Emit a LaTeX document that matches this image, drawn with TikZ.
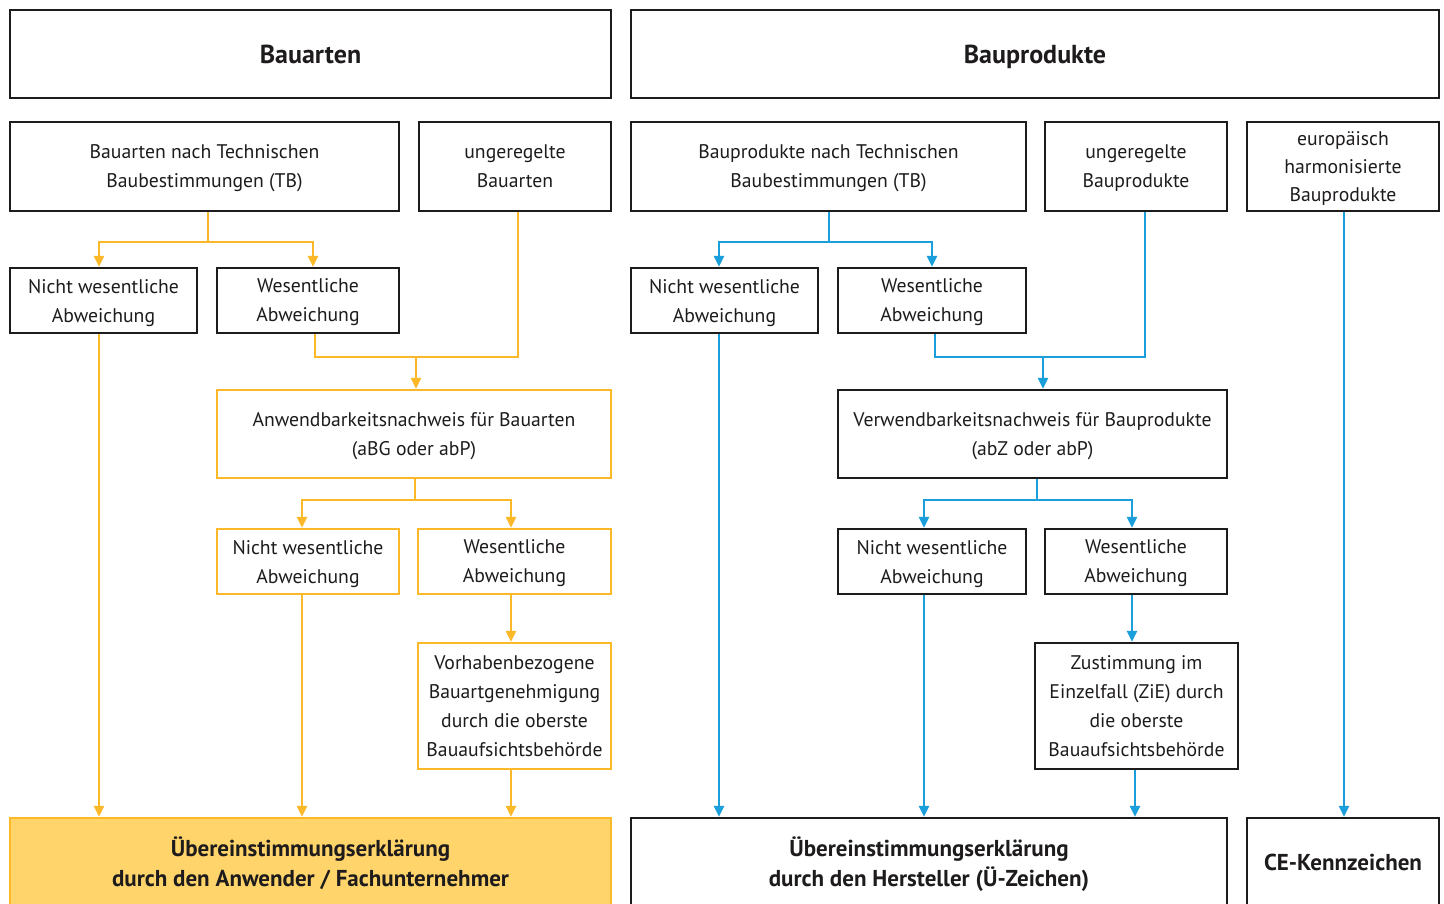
\documentclass[tikz,border=0pt]{standalone}
\usepackage{fontspec}
\setmainfont{PT Sans}
\usetikzlibrary{arrows.meta}
\definecolor{yl}{HTML}{FBB829}
\definecolor{ylfill}{HTML}{FED46B}
\definecolor{bl}{HTML}{1A9FDB}
\definecolor{tx}{HTML}{1E1B1C}
\newcommand{\bx}[7]{\node[box,#6,minimum width={(#4-#2)*1pt},minimum height={(#5-#3)*1pt}] (#1) at ({(#2+#4)/2},{(#3+#5)/2}) {#7};}
\begin{document}
\begin{tikzpicture}[x=1pt,y=-1pt,
  box/.style={draw=tx,line width=2.5pt,align=center,inner sep=0pt,text=tx,text depth=0pt,font=\fontsize{19.7}{29}\selectfont},
  title/.style={font=\fontsize{26}{30}\selectfont\bfseries},
  btxt/.style={font=\fontsize{23}{30}\selectfont\bfseries},
  ybox/.style={draw=yl},
  yfill/.style={draw=yl,fill=ylfill},
  yarr/.style={draw=yl,line width=2.5pt,-{Triangle[length=11pt,width=10pt]}},
  yln/.style={draw=yl,line width=2.5pt},
  barr/.style={draw=bl,line width=2.5pt,-{Triangle[length=11pt,width=10pt]}},
  bln/.style={draw=bl,line width=2.5pt}]
\clip (0,0) rectangle (1444,903);
\fill[white] (0,0) rectangle (1444,903);
% titles
\bx{tA}{10}{10}{611}{98}{title}{Bauarten}
\bx{tP}{631}{10}{1439}{98}{title}{Bauprodukte}
% row 2
\bx{tbA}{10}{122}{399}{211}{}{Bauarten nach Technischen\\Baubestimmungen (TB)}
\bx{ugA}{419}{122}{611}{211}{}{ungeregelte\\Bauarten}
\bx{tbP}{631}{122}{1026}{211}{}{Bauprodukte nach Technischen\\Baubestimmungen (TB)}
\bx{ugP}{1045}{122}{1227}{211}{}{ungeregelte\\Bauprodukte}
\bx{eu}{1247}{122}{1439}{211}{font=\fontsize{19.7}{28}\selectfont}{europäisch\\harmonisierte\\Bauprodukte}
% row 3
\bx{nw1}{10}{268}{197}{333}{}{Nicht wesentliche\\Abweichung}
\bx{w1}{217}{268}{399}{333}{}{Wesentliche\\Abweichung}
\bx{nw2}{631}{268}{818}{333}{}{Nicht wesentliche\\Abweichung}
\bx{w2}{838}{268}{1026}{333}{}{Wesentliche\\Abweichung}
% row 4
\bx{anw}{217}{390}{611}{478}{ybox}{Anwendbarkeitsnachweis für Bauarten\\(aBG oder abP)}
\bx{ver}{838}{390}{1227}{478}{}{Verwendbarkeitsnachweis für Bauprodukte\\(abZ oder abP)}
% row 5
\bx{nw3}{217}{529}{399}{594}{ybox}{Nicht wesentliche\\Abweichung}
\bx{w3}{418}{529}{611}{594}{ybox}{Wesentliche\\Abweichung}
\bx{nw4}{838}{529}{1026}{594}{}{Nicht wesentliche\\Abweichung}
\bx{w4}{1045}{529}{1227}{594}{}{Wesentliche\\Abweichung}
% row 6
\bx{vhb}{418}{643}{611}{769}{ybox}{Vorhabenbezogene\\Bauartgenehmigung\\durch die oberste\\Bauaufsichtsbehörde}
\bx{zie}{1035}{643}{1238}{769}{}{Zustimmung im\\Einzelfall (ZiE) durch\\die oberste\\Bauaufsichtsbehörde}
% row 7
\bx{ueA}{10}{818}{611}{906}{yfill,btxt}{Übereinstimmungserklärung\\durch den Anwender / Fachunternehmer}
\bx{ueP}{631}{818}{1227}{906}{btxt}{Übereinstimmungserklärung\\durch den Hersteller (Ü-Zeichen)}
\bx{ce}{1247}{818}{1439}{906}{btxt}{CE-Kennzeichen}
% ---- yellow connectors
\coordinate (jA1) at (208,242);
\draw[yln] (208,0 |- tbA.south) -- (jA1);
\draw[yarr] (jA1) -| (99,0 |- nw1.north);
\draw[yarr] (jA1) -| (313,0 |- w1.north);
\coordinate (jA2) at (416,357);
\draw[yln] (315,0 |- w1.south) |- (jA2);
\draw[yln] (518,0 |- ugA.south) |- (jA2);
\draw[yarr] (jA2) -- (416,0 |- anw.north);
\draw[yarr] (99,0 |- nw1.south) -- (99,0 |- ueA.north);
\coordinate (jA3) at (415,500);
\draw[yln] (415,0 |- anw.south) -- (jA3);
\draw[yarr] (jA3) -| (302,0 |- nw3.north);
\draw[yarr] (jA3) -| (511,0 |- w3.north);
\draw[yarr] (302,0 |- nw3.south) -- (302,0 |- ueA.north);
\draw[yarr] (511,0 |- w3.south) -- (511,0 |- vhb.north);
\draw[yarr] (511,0 |- vhb.south) -- (511,0 |- ueA.north);
% ---- blue connectors
\coordinate (jP1) at (829,242);
\draw[bln] (829,0 |- tbP.south) -- (jP1);
\draw[barr] (jP1) -| (719,0 |- nw2.north);
\draw[barr] (jP1) -| (932,0 |- w2.north);
\coordinate (jP2) at (1043,357);
\draw[bln] (935,0 |- w2.south) |- (jP2);
\draw[bln] (1145,0 |- ugP.south) |- (jP2);
\draw[barr] (jP2) -- (1043,0 |- ver.north);
\draw[barr] (719,0 |- nw2.south) -- (719,0 |- ueP.north);
\coordinate (jP3) at (1037,500);
\draw[bln] (1037,0 |- ver.south) -- (jP3);
\draw[barr] (jP3) -| (924,0 |- nw4.north);
\draw[barr] (jP3) -| (1132,0 |- w4.north);
\draw[barr] (924,0 |- nw4.south) -- (924,0 |- ueP.north);
\draw[barr] (1132,0 |- w4.south) -- (1132,0 |- zie.north);
\draw[barr] (1135,0 |- zie.south) -- (1135,0 |- ueP.north);
\draw[barr] (1344,0 |- eu.south) -- (1344,0 |- ce.north);
\end{tikzpicture}
\end{document}
